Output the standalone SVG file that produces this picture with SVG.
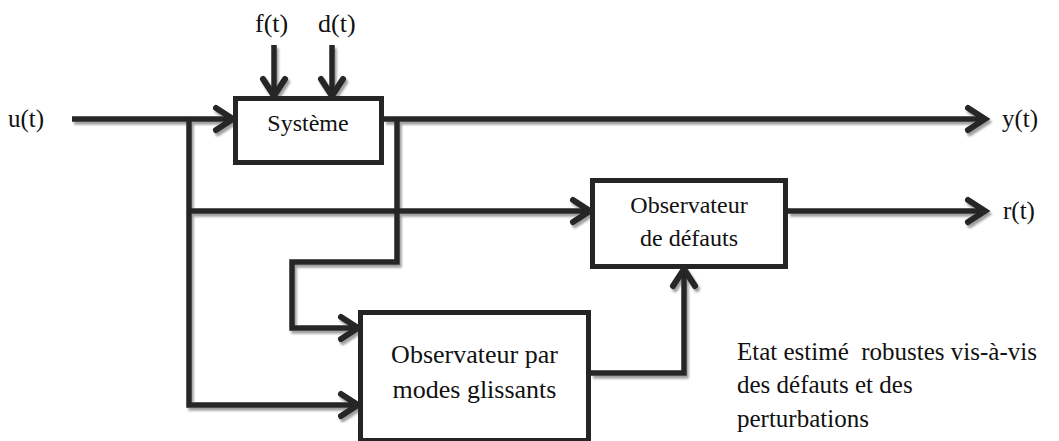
<svg xmlns="http://www.w3.org/2000/svg" width="1059" height="441" viewBox="0 0 1059 441">
<style>
.ln{fill:none;stroke:#252525;stroke-width:5.5;stroke-linejoin:miter}
.box{fill:#fff;stroke:#252525;stroke-width:5}
.t{font-family:"Liberation Serif","Times New Roman","DejaVu Serif",serif;font-size:24px;fill:#111}
.c{text-anchor:middle}
.lb{font-size:25px}
.lg{font-size:26px}
</style>
<defs>
<filter id="sh" x="-5%" y="-5%" width="110%" height="110%">
<feDropShadow dx="2" dy="3" stdDeviation="1" flood-color="#777" flood-opacity="0.7"/>
</filter>
<marker id="ar" markerUnits="userSpaceOnUse" markerWidth="30" markerHeight="30" viewBox="-25 -15 30 30" refX="-2" refY="0" orient="auto">
<path d="M-19,-11 L-2,0 L-19,11" fill="none" stroke="#252525" stroke-width="6" stroke-linecap="round" stroke-linejoin="miter"/>
</marker>
</defs>
<g id="connectors" filter="url(#sh)">
<path class="ln" d="M72,119 H233" marker-end="url(#ar)"/>
<path class="ln" d="M274,45 V96" marker-end="url(#ar)"/>
<path class="ln" d="M332,45 V96" marker-end="url(#ar)"/>
<path class="ln" d="M384,119 H985" marker-end="url(#ar)"/>
<path class="ln" d="M189,119 V405 H358" marker-end="url(#ar)"/>
<path class="ln" d="M189,211 H590" marker-end="url(#ar)"/>
<path class="ln" d="M397,119 V262 H292 V328 H358" marker-end="url(#ar)"/>
<path class="ln" d="M788,211 H985" marker-end="url(#ar)"/>
<path class="ln" d="M591,373 H684 V269" marker-end="url(#ar)"/>
</g>
<g id="systeme">
<rect class="box" x="235.5" y="98.5" width="146" height="64"/>
<text class="t c" x="308" y="131">Système</text>
</g>
<g id="observateur-defauts">
<rect class="box" x="592.5" y="180.5" width="193" height="86"/>
<text class="t c" x="689" y="213">Observateur</text>
<text class="t c" x="689" y="246">de défauts</text>
</g>
<g id="observateur-modes">
<rect class="box" x="360.5" y="312.5" width="228" height="128"/>
<text class="t c lg" x="474.5" y="363">Observateur par</text>
<text class="t c lg" x="474.5" y="398">modes glissants</text>
</g>
<g id="labels">
<text class="t lb" x="8" y="127">u(t)</text>
<text class="t lg" x="255" y="32">f(t)</text>
<text class="t lg" x="318" y="32">d(t)</text>
<text class="t lb" x="1002" y="127">y(t)</text>
<text class="t lb" x="1003" y="219">r(t)</text>
<text class="t lb" x="737" y="360" xml:space="preserve">Etat estimé  robustes vis-à-vis</text>
<text class="t lb" x="737" y="393">des défauts et des</text>
<text class="t lb" x="737" y="427">perturbations</text>
</g>
</svg>
